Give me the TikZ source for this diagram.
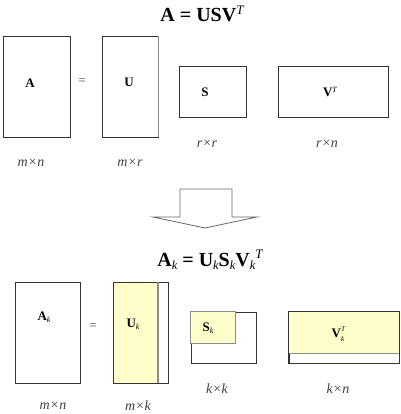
\documentclass[tikz,border=0pt]{standalone}
\usepackage{fontspec}
\setmainfont{Liberation Serif}
\definecolor{lightyel}{HTML}{FFFFCC}
\definecolor{edge}{HTML}{333333}
\definecolor{greyedge}{HTML}{8C8C8C}
\newcommand{\msub}[1]{\raisebox{-0.35ex}{\fontsize{0.62em}{1em}\selectfont\mdseries\itshape #1}}
\newcommand{\msubsup}[2]{\makebox[0pt][l]{\raisebox{1.05ex}{\fontsize{0.55em}{1em}\selectfont\mdseries\itshape #2}}\raisebox{-0.55ex}{\fontsize{0.55em}{1em}\selectfont\mdseries\itshape #1}}
\begin{document}
\begin{tikzpicture}[x=1pt,y=-1pt,
  mbox/.style={draw=edge,line width=0.8pt,rectangle,inner sep=0pt},
  fillbox/.style={fill=lightyel,draw=greyedge,line width=0.8pt},
  mlabel/.style={inner sep=0pt,font=\fontsize{13}{15}\selectfont\bfseries},
  dimlabel/.style={inner sep=0pt,font=\fontsize{14}{16}\selectfont\itshape,text=black!75},
  title/.style={inner sep=0pt,font=\fontsize{20}{24}\selectfont\bfseries}]
\useasboundingbox (0,0) rectangle (400,414);
% ---------- top ----------
\node[title] (t1) at (202,14) {A = USV\raisebox{0.7ex}{\fontsize{13}{14}\selectfont\mdseries\itshape T}};
\node[mbox,minimum width=67,minimum height=101] (A) at (36.5,86.5) {};
\node[mlabel] (Al) at (30,83) {A};
\node[inner sep=0pt,font=\fontsize{13}{14}\selectfont,text=black!70] (eq1) at (82,82) {=};
\node[mbox,minimum width=56,minimum height=101] (U) at (130,86.5) {};
\draw[greyedge,line width=1.2pt] (U.north east) -- (U.south east);
\node[mlabel] (Ul) at (129,82) {U};
\node[mbox,minimum width=67,minimum height=51] (S) at (212.5,91.5) {};
\node[mlabel] (Sl) at (205,92) {S};
\node[mbox,minimum width=110,minimum height=51] (V) at (333,91.5) {};
\node[mlabel] (Vl) at (330,92) {V\raisebox{0.75ex}{\fontsize{8}{9}\selectfont\mdseries\itshape T}};
\node[dimlabel] (d1) at (207,144) {r×r};
\node[dimlabel] (d2) at (327,144) {r×n};
\node[dimlabel] (d3) at (31,163) {m×n};
\node[dimlabel] (d4) at (130,163) {m×r};
% ---------- arrow ----------
\draw[draw=black!60,line width=0.8pt,fill=white]
  (180,189) -- (232,189) -- (232,217) -- (257,217) -- (205,228) -- (153,217) -- (180,217) -- cycle;
% ---------- bottom ----------
\node[title] (t2) at (210,260) {A\msub{k} = U\msub{k}S\msub{k}V\msub{k}\raisebox{0.9ex}{\fontsize{13}{14}\selectfont\mdseries\itshape T}};
\node[mbox,minimum width=65,minimum height=101] (Ak) at (47.5,332.5) {};
\node[mlabel] (Akl) at (44,317) {A\msub{k}};
\node[inner sep=0pt,font=\fontsize{13}{14}\selectfont,text=black!70] (eq2) at (93,327) {=};
\fill[lightyel] (113,282) rectangle (158,383);
\node[mbox,minimum width=55,minimum height=101] (Uk) at (140.5,332.5) {};
\draw[greyedge,line width=1.2pt] (158,282) -- (158,383);
\node[mlabel] (Ukl) at (133,324) {U\msub{k}};
\node[mbox,minimum width=65,minimum height=51] (Sk) at (223.5,337.5) {};
\draw[fillbox] (Sk.north west) rectangle (235,343);
\node[mlabel] (Skl) at (208,328) {S\msub{k}};
\node[mbox,minimum width=110,minimum height=51] (Vk) at (344,337.5) {};
\draw[fillbox] (Vk.north west) rectangle (Vk.east |- 0,353);
\draw[edge,line width=0.8pt] (Vk.north west) rectangle (Vk.south east);
\node[mlabel] (Vkl) at (338,334) {V\msubsup{k}{T}\hspace{0.5em}};
\node[dimlabel] (d5) at (217,389) {k×k};
\node[dimlabel] (d6) at (338,389) {k×n};
\node[dimlabel] (d7) at (53,406) {m×n};
\node[dimlabel] (d8) at (138,406) {m×k};
\end{tikzpicture}
\end{document}
